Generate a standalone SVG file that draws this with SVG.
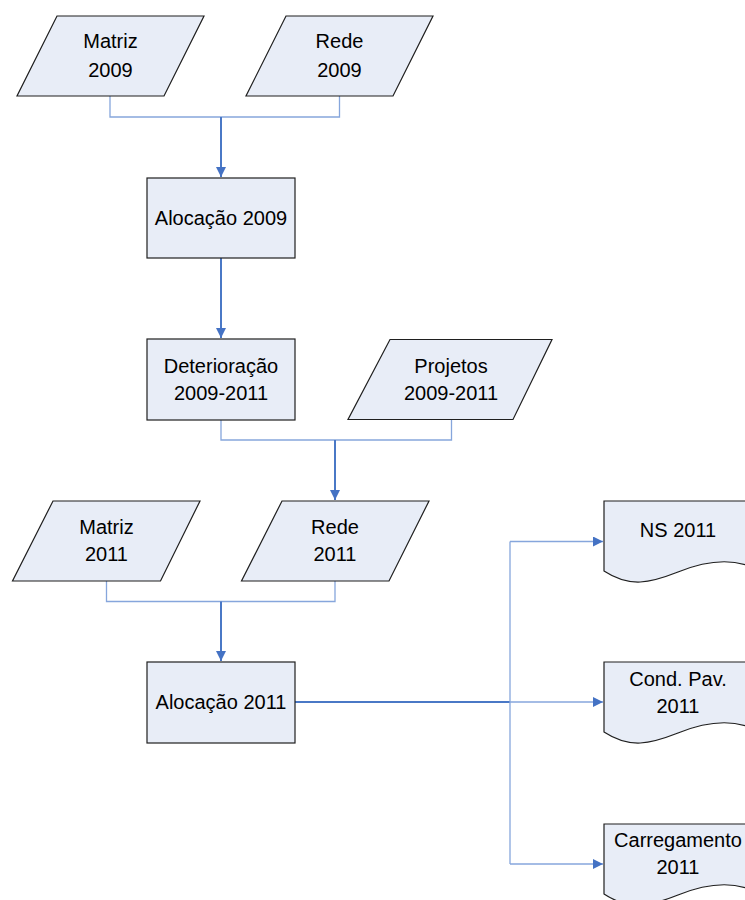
<svg xmlns="http://www.w3.org/2000/svg" width="745" height="900" viewBox="0 0 745 900">
<defs>
<style>
.n{fill:#e8edf7;stroke:#1f1f1f;stroke-width:1.2}
.t{font-family:"Liberation Sans",Arial,sans-serif;font-size:20px;fill:#000;text-anchor:middle}
.thin{fill:none;stroke:#86a6dc;stroke-width:1.3}
.main{fill:none;stroke:#4a78c6;stroke-width:2}
</style>
<marker id="ah" viewBox="0 0 10 10" refX="10" refY="5" markerWidth="10" markerHeight="10" markerUnits="userSpaceOnUse" orient="auto">
<path d="M0,0 L10,5 L0,10 z" fill="#4472c4"/>
</marker>
</defs>
<rect width="745" height="900" fill="#fff"/>
<g id="connectors">
<path class="thin" d="M110,96 V117 H339.5 V96"/>
<path class="main" d="M221,117 V177" marker-end="url(#ah)"/>
<path class="main" d="M221,258 V338" marker-end="url(#ah)"/>
<path class="thin" d="M221,420 V440 H451.5 V419"/>
<path class="main" d="M335,440 V500" marker-end="url(#ah)"/>
<path class="thin" d="M106.5,581 V601.5 H335 V581"/>
<path class="main" d="M221,601.5 V661" marker-end="url(#ah)"/>
<path class="main" d="M295,702 H510"/>
<path class="thin" d="M510,541.5 V864"/>
<path class="thin" d="M510,541.5 H603" marker-end="url(#ah)"/>
<path class="thin" d="M510,702 H603" marker-end="url(#ah)"/>
<path class="thin" d="M510,864 H603" marker-end="url(#ah)"/>
</g>
<g id="matriz2009">
<polygon class="n" points="57,16 204,16 164,96 17,96"/>
<text class="t" x="110.5" y="48">Matriz</text>
<text class="t" x="110.5" y="77">2009</text>
</g>
<g id="rede2009">
<polygon class="n" points="286,16 433,16 393,96 246,96"/>
<text class="t" x="339.5" y="48">Rede</text>
<text class="t" x="339.5" y="77">2009</text>
</g>
<g id="alocacao2009">
<rect class="n" x="147" y="178" width="148" height="80"/>
<text class="t" x="221" y="225">Alocação 2009</text>
</g>
<g id="deterioracao">
<rect class="n" x="147" y="339" width="148" height="81"/>
<text class="t" x="221" y="373">Deterioração</text>
<text class="t" x="221" y="400">2009-2011</text>
</g>
<g id="projetos">
<polygon class="n" points="390,339.5 552,339.5 513,419.5 348,419.5"/>
<text class="t" x="451" y="373">Projetos</text>
<text class="t" x="451" y="400">2009-2011</text>
</g>
<g id="matriz2011">
<polygon class="n" points="53,501 200,501 160.5,581 12.5,581"/>
<text class="t" x="106.5" y="534">Matriz</text>
<text class="t" x="106.5" y="561">2011</text>
</g>
<g id="rede2011">
<polygon class="n" points="282,501 429,501 389,581 241.5,581"/>
<text class="t" x="335" y="534">Rede</text>
<text class="t" x="335" y="561">2011</text>
</g>
<g id="alocacao2011">
<rect class="n" x="147" y="662" width="148" height="81"/>
<text class="t" x="221" y="709">Alocação 2011</text>
</g>
<g id="ns2011">
<path class="n" d="M604,501 H752 V567 C730,558 705,561 678,572 C650,583 630,588 604,571 Z"/>
<text class="t" x="678" y="537">NS 2011</text>
</g>
<g id="condpav2011">
<path class="n" d="M604,662 H752 V728 C730,719 705,722 678,733 C650,744 630,749 604,732 Z"/>
<text class="t" x="678" y="686">Cond. Pav.</text>
<text class="t" x="678" y="713">2011</text>
</g>
<g id="carregamento2011">
<path class="n" d="M604,824 H752 V890 C730,881 705,884 678,895 C650,906 630,911 604,894 Z"/>
<text class="t" x="678" y="847">Carregamento</text>
<text class="t" x="678" y="874">2011</text>
</g>
</svg>
